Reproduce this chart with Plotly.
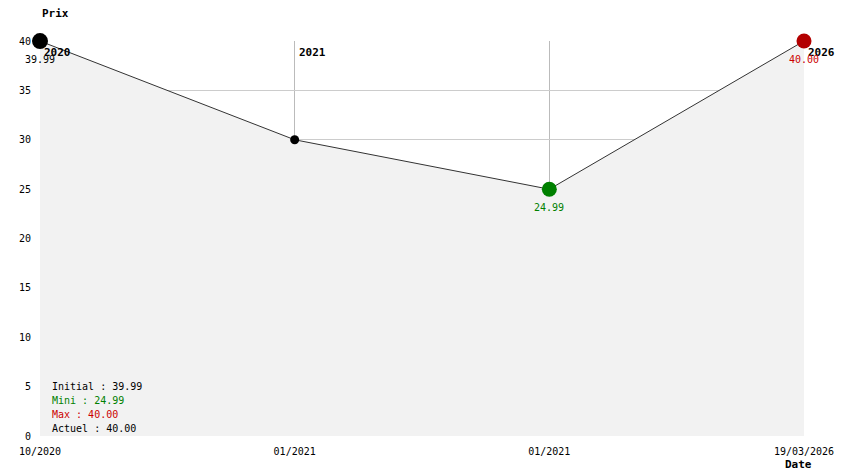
import plotly.graph_objects as go

# data
dates = ["10/2020", "01/2021", "01/2021", "19/03/2026"]
years = ["2020", "2021", "", "2026"]
prices = [39.99, 30.0, 24.99, 40.0]
point_labels = ["39.99", "", "24.99", "40.00"]
label_colors = ["#000000", "#000000", "#008000", "#cc0000"]
marker_colors = ["#000000", "#000000", "#008000", "#b30000"]
marker_sizes = [16, 9, 15, 15]
summary = [("Initial : 39.99", "#000000"), ("Mini : 24.99", "#008000"),
           ("Max : 40.00", "#cc0000"), ("Actuel : 40.00", "#000000")]

FONT = "DejaVu Sans Mono"
xs = list(range(len(prices)))
top = max(prices)

fig = go.Figure()

# price area
fig.add_trace(go.Scatter(
    x=xs, y=prices, mode="lines", fill="tozeroy",
    fillcolor="#f2f2f2", line=dict(color="#333333", width=1),
    hoverinfo="skip", showlegend=False,
))

# markers
fig.add_trace(go.Scatter(
    x=xs, y=prices, mode="markers",
    marker=dict(color=marker_colors, size=marker_sizes, line=dict(width=0), opacity=1),
    opacity=1, cliponaxis=False, showlegend=False,
))

# year labels along the top
for x, yr in zip(xs, years):
    if yr:
        fig.add_annotation(x=x, y=top, text=f"<b>{yr}</b>", showarrow=False,
                           xanchor="left", yanchor="middle", xshift=2, yshift=-11,
                           font=dict(family=FONT, size=11, color="black"))

# value labels under points
for x, p, lab, col in zip(xs, prices, point_labels, label_colors):
    if lab:
        fig.add_annotation(x=x, y=p, text=lab, showarrow=False,
                           xanchor="center", yanchor="middle", yshift=-18,
                           font=dict(family=FONT, size=10, color=col))

for i, (txt, col) in enumerate(summary):
    fig.add_annotation(
        x=0.013, y=0.125 - i * 0.0355, xref="paper", yref="paper",
        text=txt, showarrow=False, xanchor="left", yanchor="middle",
        font=dict(family=FONT, size=10, color=col),
    )

fig.add_annotation(x=0, y=1, xref="paper", yref="paper", yshift=28,
                   text="<b>Prix</b>", showarrow=False, xanchor="left",
                   yanchor="middle", font=dict(family=FONT, size=11, color="black"))
fig.add_annotation(x=1, y=0, xref="paper", yref="paper", yshift=-28, xshift=-21,
                   text="<b>Date</b>", showarrow=False, xanchor="left",
                   yanchor="middle", font=dict(family=FONT, size=11, color="black"))

# page body adds an 8px offset, so the figure is drawn 8px smaller
fig.update_layout(
    width=836, height=466,
    margin=dict(l=32, r=40, t=33, b=38, autoexpand=False),
    paper_bgcolor="white", plot_bgcolor="white",
    font=dict(family=FONT, size=10, color="black"),
    xaxis=dict(range=[0, 3], tickvals=xs, ticktext=dates, showgrid=True,
               gridcolor="#bbbbbb", gridwidth=1, zeroline=False, showline=False,
               ticks="", ticklabelstandoff=8, tickfont=dict(family=FONT, size=10)),
    yaxis=dict(range=[0, 40], dtick=5, showgrid=True, gridcolor="#cccccc",
               zeroline=False, showline=False, ticks="", ticklabelstandoff=8,
               tickfont=dict(family=FONT, size=10)),
)

fig.write_html("out.html")
